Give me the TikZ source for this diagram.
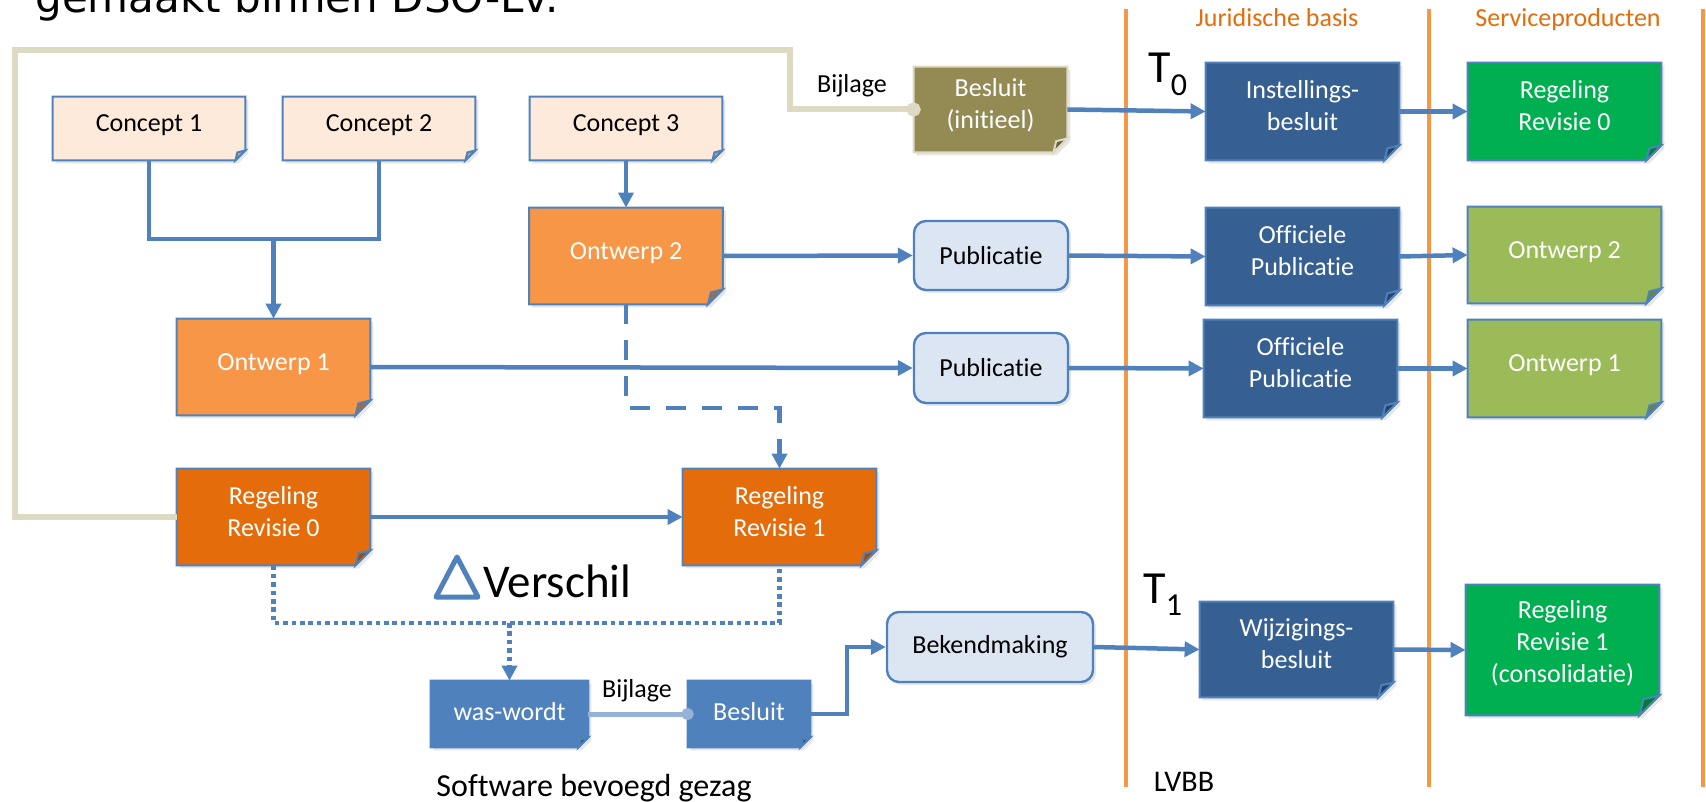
\documentclass[tikz,border=0pt]{standalone}
\usepackage{fontspec}
\setmainfont{Carlito}[Ligatures=NoCommon]
\newfontfamily\titlefont{DejaVu Sans}
\usetikzlibrary{arrows.meta,backgrounds,shadows}

\definecolor{bordblue}{HTML}{4F81BD}
\definecolor{conceptfill}{HTML}{FDEADA}
\definecolor{ontwerpfill}{HTML}{F79646}
\definecolor{regelingfill}{HTML}{E46C0A}
\definecolor{olivefill}{HTML}{948A54}
\definecolor{creamline}{HTML}{DDD9C3}
\definecolor{darkbluefill}{HTML}{376092}
\definecolor{greenfill}{HTML}{00B050}
\definecolor{lightgreenfill}{HTML}{9BBB59}
\definecolor{pubfill}{HTML}{DCE6F2}
\definecolor{lightconn}{HTML}{95B3D7}
\definecolor{lanecolor}{HTML}{F79646}
\definecolor{headcolor}{HTML}{E46C0A}

\newcommand\dt[2][3pt]{\raisebox{0pt}[\height][\dimexpr\depth+#1\relax]{\begin{tabular}{@{}c@{}}#2\end{tabular}}}

% body of a document shape with folded corner: node, fill, border, corner size
\newcommand\docbody[4]{%
  \path[docedge, draw=#3, fill=#2, boxshadow] (#1.north west) -- (#1.north east)
     -- ([yshift=#4]#1.south east) -- ([xshift=-#4]#1.south east) -- (#1.south west) -- cycle;
  \path[docedge, draw=#3, fill=#2!70!black] ([yshift=#4]#1.south east) -- ([xshift=-#4]#1.south east)
     -- ([xshift=-0.8*#4,yshift=0.8*#4]#1.south east) -- cycle;}

\begin{document}
\begin{tikzpicture}[x=0.5pt,y=-0.5pt,
  boxfont/.style={font=\fontsize{13}{16}\selectfont},
  doc/.style={rectangle, draw=none, inner sep=0pt, text=white, boxfont},
  docedge/.style={line width=1pt, line join=miter},
  boxshadow/.style={drop shadow={shadow xshift=1.5pt, shadow yshift=-1.5pt, opacity=0.2}},
  pill/.style={rectangle, rounded corners=6pt, draw=bordblue, line width=1.2pt, fill=pubfill,
     text=black, inner sep=0pt, boxfont, boxshadow},
  conn/.style={draw=bordblue, line width=2.25pt},
  arr/.style={-{Triangle[length=7.5pt,width=7.5pt]}},
  dashline/.style={conn, dash pattern=on 10pt off 8pt},
  dotline/.style={conn, dash pattern=on 2.3pt off 1.9pt},
  creamconn/.style={draw=creamline, line width=3pt, -{Circle[length=7pt]}, shorten >=-3.5pt},
  lightbij/.style={draw=lightconn, line width=2.5pt, -{Circle[length=6pt]}, shorten >=-3pt},
  lane/.style={draw=lanecolor, line width=2pt},
  lbl/.style={inner sep=0pt, text=black, boxfont},
  head/.style={inner sep=0pt, text=headcolor, boxfont},
  tlab/.style={inner sep=0pt, text=black, font=\fontsize{23}{23}\selectfont},
]
\useasboundingbox (0,0) rectangle (1706,802);

% title (cut at top, as in the reference)
\node[inner sep=0pt, anchor=base west, font=\titlefont\fontsize{21}{21}\selectfont] (title) at (35,13) {gemaakt binnen DSO-Lv.};

% document nodes
\node[doc, minimum width=96pt, minimum height=31.5pt, text=black] (c1) at (149,128.5) {\dt{Concept 1}};
\node[doc, minimum width=96pt, minimum height=31.5pt, text=black] (c2) at (379,128.5) {\dt{Concept 2}};
\node[doc, minimum width=96pt, minimum height=31.5pt, text=black] (c3) at (626,128.5) {\dt{Concept 3}};
\node[doc, minimum width=96.5pt, minimum height=48pt] (o2) at (626,256) {\dt{Ontwerp 2}};
\node[doc, minimum width=96.5pt, minimum height=48pt] (o1) at (273.5,367) {\dt{Ontwerp 1}};
\node[doc, minimum width=96.5pt, minimum height=48pt] (r0) at (273.5,517) {\dt{Regeling\\Revisie 0}};
\node[doc, minimum width=96.5pt, minimum height=48pt] (r1) at (779.5,517) {\dt{Regeling\\Revisie 1}};
\node[doc, minimum width=76.5pt, minimum height=42.5pt] (bi) at (990.5,109.5) {\dt{Besluit\\(initieel)}};
\node[doc, minimum width=96.5pt, minimum height=48.5pt] (inst) at (1302.5,111.5) {\dt{Instellings-\\besluit}};
\node[doc, minimum width=96.5pt, minimum height=48.5pt] (op1) at (1302.5,256.5) {\dt{Officiele\\Publicatie}};
\node[doc, minimum width=96.5pt, minimum height=48.5pt] (op2) at (1300.5,368.5) {\dt{Officiele\\Publicatie}};
\node[doc, minimum width=96.5pt, minimum height=47.5pt] (wijz) at (1296.5,649.5) {\dt{Wijzigings-\\besluit}};
\node[doc, minimum width=96.5pt, minimum height=48.5pt] (g0) at (1564.5,111.5) {\dt{Regeling\\Revisie 0}};
\node[doc, minimum width=96.5pt, minimum height=48pt] (go2) at (1564.5,255) {\dt{Ontwerp 2}};
\node[doc, minimum width=96.5pt, minimum height=48.5pt] (go1) at (1564.5,368.5) {\dt{Ontwerp 1}};
\node[doc, minimum width=96.5pt, minimum height=65pt] (g1) at (1562.5,650) {\dt[6pt]{Regeling\\Revisie 1\\(consolidatie)}};
\node[doc, minimum width=78.5pt, minimum height=33pt] (ww) at (509.5,714) {\dt[0pt]{was-wordt}};
\node[doc, minimum width=61pt, minimum height=33pt] (bs) at (749,714) {\dt[0pt]{Besluit}};

% rounded process nodes
\node[pill, minimum width=77pt, minimum height=34.5pt] (pub1) at (991,255.5) {Publicatie};
\node[pill, minimum width=77pt, minimum height=35pt] (pub2) at (991,368) {Publicatie};
\node[pill, minimum width=103pt, minimum height=35pt] (bek) at (990,647) {Bekendmaking};

% labels
\node[head, anchor=base] (jb) at (1277,27) {Juridische basis};
\node[head, anchor=base] (sp) at (1568,27) {Serviceproducten};
\node[lbl, anchor=base] (bij1) at (852,93) {Bijlage};
\node[lbl, anchor=base] (bij2) at (637,697) {Bijlage};
\node[lbl, anchor=base, font=\fontsize{16}{16}\selectfont] (sw) at (594,796) {Software bevoegd gezag};
\node[lbl, anchor=base, font=\fontsize{15}{15}\selectfont] (lvbb) at (1184,791) {LVBB};
\node[lbl, anchor=base west, font=\fontsize{23.5}{23.5}\selectfont] (verschil) at (483,597) {Verschil};
\node[tlab, anchor=base west] (t0) at (1148,83) {T\raisebox{-6.5pt}{\fontsize{16}{16}\selectfont 0}};
\node[tlab, anchor=base west] (t1) at (1143,603) {T\raisebox{-6pt}{\fontsize{16}{16}\selectfont 1}};

% delta triangle
\draw[draw=bordblue, line width=2.5pt, line join=round] (457,557) -- (478,597) -- (436,597) -- cycle;

% background: lanes and document bodies
\begin{pgfonlayer}{background}
  \draw[lane] (1126,9) -- (1126,787);
  \draw[lane] (1429,9) -- (1429,787);
  \draw[lane] (1703,9) -- (1703,787);
  \docbody{c1}{conceptfill}{bordblue}{5pt}
  \docbody{c2}{conceptfill}{bordblue}{5pt}
  \docbody{c3}{conceptfill}{bordblue}{5pt}
  \docbody{o2}{ontwerpfill}{bordblue}{7.5pt}
  \docbody{o1}{ontwerpfill}{bordblue}{7.5pt}
  \docbody{r0}{regelingfill}{bordblue}{7.5pt}
  \docbody{r1}{regelingfill}{bordblue}{7.5pt}
  \docbody{bi}{olivefill}{creamline}{7pt}
  \docbody{inst}{darkbluefill}{bordblue}{7.5pt}
  \docbody{op1}{darkbluefill}{bordblue}{7.5pt}
  \docbody{op2}{darkbluefill}{bordblue}{7.5pt}
  \docbody{wijz}{darkbluefill}{bordblue}{7.5pt}
  \docbody{g0}{greenfill}{bordblue}{7.5pt}
  \docbody{go2}{lightgreenfill}{bordblue}{7.5pt}
  \docbody{go1}{lightgreenfill}{bordblue}{7.5pt}
  \docbody{g1}{greenfill}{bordblue}{10pt}
  \docbody{ww}{bordblue}{bordblue}{5pt}
  \docbody{bs}{bordblue}{bordblue}{5pt}
\end{pgfonlayer}

% helper coordinates
\coordinate (cj) at (273.5,239);
\coordinate (dh) at (700,408);
\coordinate (dv) at (509.5,623);
\coordinate (bk) at (847,647);
\coordinate (cr1) at (15,517);
\coordinate (cr2) at (790,50);

% connectors
\draw[conn] (c1.south) |- (cj) -| (c2.south);
\draw[conn, arr] (cj) -- (o1.north);
\draw[conn, arr] (c3.south) -- (o2.north);
\draw[conn, arr] (o2.east) -- (pub1.west);
\draw[conn, arr] (pub1.east) -- (op1.west);
\draw[conn, arr] (op1.east) -- (go2.west);
\draw[conn, arr] (o1.east) -- (pub2.west);
\draw[conn, arr] (pub2.east) -- (op2.west);
\draw[conn, arr] (op2.east) -- (go1.west);
\draw[conn, arr] (bi.east) -- (inst.west);
\draw[conn, arr] (inst.east) -- (g0.west);
\draw[conn, arr] (r0.east) -- (r1.west);
\draw[dashline, arr] (o2.south) |- (dh) -| (r1.north);
\draw[dotline] (r0.south) |- (dv) -| (r1.south);
\draw[dotline, arr] (dv) -- (ww.north);
\draw[lightbij] (ww.east) -- (bs.west);
\draw[conn, arr] (bs.east) -| (bk) -- (bek.west);
\draw[conn, arr] (bek.east) -- (wijz.west);
\draw[conn, arr] (wijz.east) -- (g1.west);
\draw[creamconn] (r0.west) -- (cr1) |- (cr2) |- (bi.west);
\end{tikzpicture}
\end{document}
